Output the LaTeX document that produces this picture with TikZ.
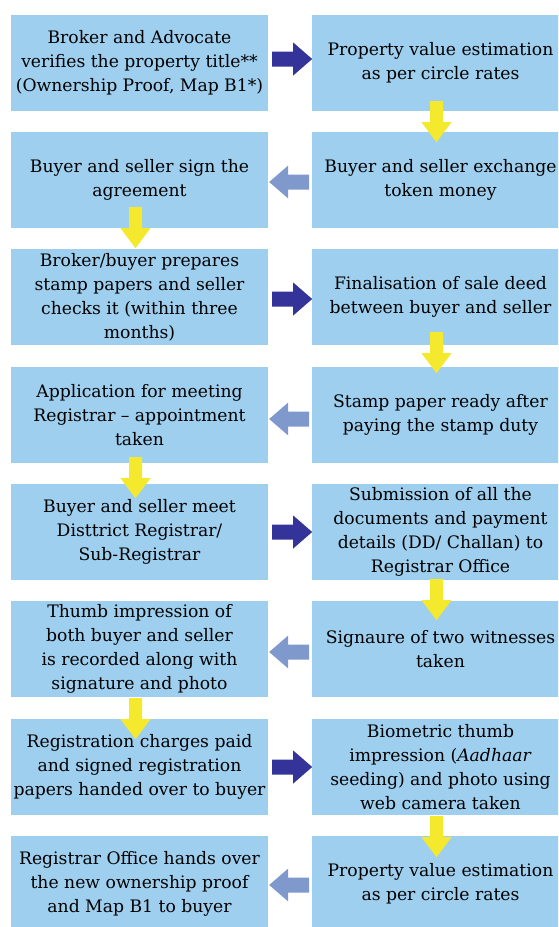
\documentclass[tikz,border=0pt]{standalone}
\usepackage{fontspec}
\setmainfont{DejaVu Serif}
\usetikzlibrary{calc}
\definecolor{boxblue}{RGB}{158,207,239}
\definecolor{darkarr}{RGB}{51,51,153}
\definecolor{lightarr}{RGB}{128,153,204}
\definecolor{yel}{RGB}{245,233,45}
\tikzset{
  stepbox/.style={fill=boxblue, minimum width=257pt, minimum height=96pt,
    inner sep=0pt, align=center, font=\fontsize{17.2}{24}\selectfont, text=black},
  yelarrow/.style={fill=yel},
  darkarrow/.style={fill=darkarr},
  lightarrow/.style={fill=lightarr}
}
% #1 node above, #2 vertical start offset from its bottom edge
\newcommand{\downarr}[2]{\fill[yelarrow, shift={(#1.south)}, yshift=-#2pt] (-10.5,0) -- (2.5,0) -- (2.5,21) -- (11,21) -- (-4,41) -- (-19,21) -- (-10.5,21) -- cycle;}
% #1 left node, #2 vertical offset of centre line
\newcommand{\rightarr}[2]{\fill[darkarrow, shift={(#1.east)}, yshift=-#2pt] (4,-7.5) -- (25,-7.5) -- (25,-16.5) -- (44,0) -- (25,16.5) -- (25,7.5) -- (4,7.5) -- cycle;}
\newcommand{\leftarr}[2]{\fill[lightarrow, shift={(#1.east)}, yshift=-#2pt] (1,0) -- (20,-16.5) -- (20,-7.5) -- (41,-7.5) -- (41,7.5) -- (20,7.5) -- (20,16.5) -- cycle;}
\begin{document}
\begin{tikzpicture}[x=1pt,y=-1pt]
\clip (0,0) rectangle (558,927);
\fill[white] (0,0) rectangle (558,927);
% left column
\node[stepbox] (l1) at (139.5,63) {Broker and Advocate\\verifies the property title**\\(Ownership Proof, Map B1*)};
\node[stepbox] (l2) at (139.5,180) {Buyer and seller sign the\\agreement};
\node[stepbox] (l3) at (139.5,297) {Broker/buyer prepares\\stamp papers and seller\\checks it (within three\\months)};
\node[stepbox] (l4) at (139.5,415) {Application for meeting\\Registrar – appointment\\taken};
\node[stepbox] (l5) at (139.5,532) {Buyer and seller meet\\Disttrict Registrar/\\Sub-Registrar};
\node[stepbox] (l6) at (139.5,649) {Thumb impression of\\both buyer and seller\\is recorded along with\\signature and photo};
\node[stepbox] (l7) at (139.5,767) {Registration charges paid\\and signed registration\\papers handed over to buyer};
\node[stepbox] (l8) at (139.5,884) {Registrar Office hands over\\the new ownership proof\\and Map B1 to buyer};
% right column
\node[stepbox] (r1) at (440.5,63) {Property value estimation\\as per circle rates};
\node[stepbox] (r2) at (440.5,180) {Buyer and seller exchange\\token money};
\node[stepbox] (r3) at (440.5,297) {Finalisation of sale deed\\between buyer and seller};
\node[stepbox] (r4) at (440.5,415) {Stamp paper ready after\\paying the stamp duty};
\node[stepbox] (r5) at (440.5,532) {Submission of all the\\documents and payment\\details (DD/ Challan) to\\Registrar Office};
\node[stepbox] (r6) at (440.5,649) {Signaure of two witnesses\\taken};
\node[stepbox] (r7) at (440.5,767) {Biometric thumb\\impression (\textit{Aadhaar}\\seeding) and photo using\\web camera taken};
\node[stepbox] (r8) at (440.5,884) {Property value estimation\\as per circle rates};
% arrows
\rightarr{l1}{-4}
\downarr{r1}{-10}
\leftarr{l2}{2}
\downarr{l2}{-21}
\rightarr{l3}{2}
\downarr{r3}{-13}
\leftarr{l4}{4}
\downarr{l4}{-6}
\rightarr{l5}{0}
\downarr{r5}{-1}
\leftarr{l6}{3}
\downarr{l6}{1}
\rightarr{l7}{0}
\downarr{r7}{1}
\leftarr{l8}{1}
\end{tikzpicture}
\end{document}
